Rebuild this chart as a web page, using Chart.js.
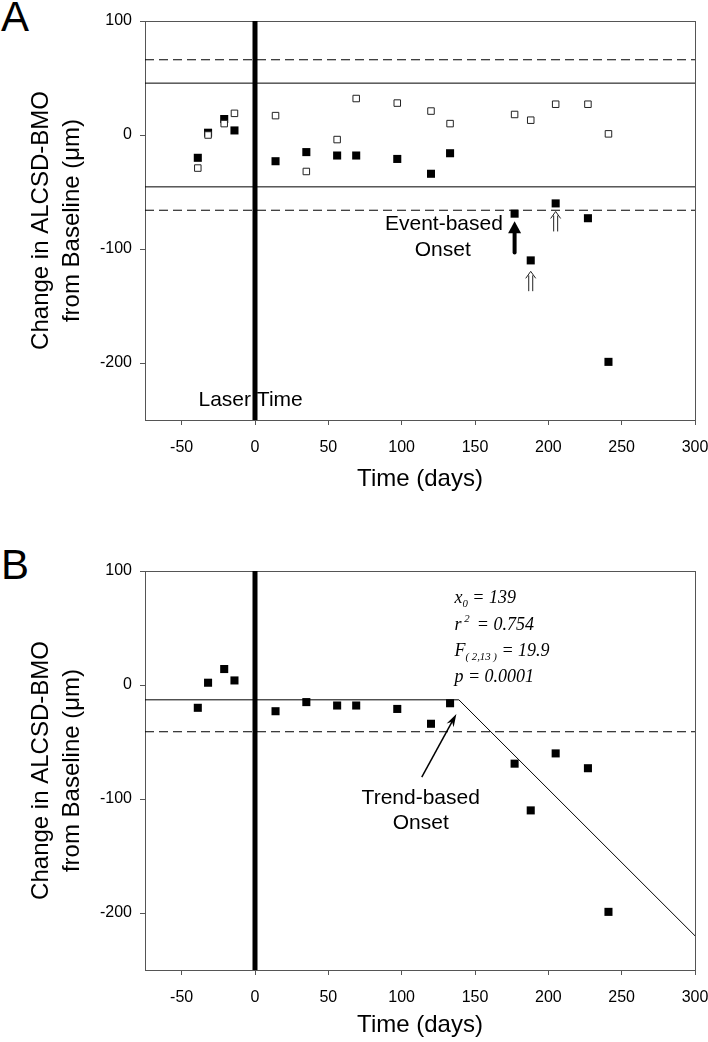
<!DOCTYPE html>
<html>
<head>
<meta charset="utf-8">
<script src="https://cdn.jsdelivr.net/npm/chart.js@4.4.0/dist/chart.umd.min.js"></script>
<style>
    html, body { margin: 0; padding: 0; background: #fff; overflow: hidden; }
    canvas { position: absolute; left: 0; }
    #panel-a { top: 0; }
    #panel-b { top: 542px; }
    .letter { position: absolute; left: 1px; font: 42px/42px 'Liberation Sans', Arial, sans-serif; color: #000; }
</style>
</head>
<body>
<div class="letter" style="top:-4px">A</div>
<canvas id="panel-a" width="708" height="496"></canvas>
<div class="letter" style="top:544px">B</div>
<canvas id="panel-b" width="708" height="500"></canvas>
<script>
// ALCSD-BMO change after laser, event-based (A) and trend-based (B) onset

const fontSans = "'Liberation Sans', Arial, sans-serif";
const fontSerif = "'Liberation Serif', 'Times New Roman', serif";

// axes
const xRange = [-75, 300];
const yRange = [-250, 100];
const xTicks = [-50, 0, 50, 100, 150, 200, 250, 300];
const yTicks = [-200, -100, 0, 100];

// visits (days from laser) and change from baseline (um)
const visitDays = [-39, -32, -21, -14, 14, 35, 56, 69, 97, 120, 133, 177, 188, 205, 227, 241];
const filledChange = [-20, 2, 14, 4, -23, -15, -18, -18, -21, -34, -16, -69, -110, -60, -73, -199];
const openChange = [-29, 0, 10, 19, 17, -32, -4, 32, 28, 21, 10, 18, 13, 27, 27, 1];

// panel A limits of variability
const laserDay = 0;
const innerLimit = 45.5;
const outerLimit = 66;

// panel B broken-stick fit
const trendDays = [-75, 139, 300];
const trendChange = [-13, -13, -220];
const trendCutoff = -41;

const toPoints = (xs, ys) => xs.map((v, i) => ({ x: v, y: ys[i] }));
const flatLine = (value) => [{ x: xRange[0], y: value }, { x: xRange[1], y: value }];

function lineSet(data, width, dash) {
    return {
        data: data,
        showLine: true,
        borderColor: '#000',
        borderWidth: width,
        borderDash: dash || [],
        pointRadius: 0,
        fill: false
    };
}

const filledSet = () => ({
    data: toPoints(visitDays, filledChange),
    pointStyle: 'rect',
    pointRadius: 5.7,
    backgroundColor: '#000',
    borderWidth: 0
});

const laserSet = () => lineSet([{ x: laserDay, y: yRange[0] }, { x: laserDay, y: yRange[1] }], 5);

// plot frame (top and right edges)
const boxPlugin = {
    id: 'box',
    beforeDatasetsDraw(chart) {
        const { ctx, chartArea: a } = chart;
        ctx.save();
        ctx.strokeStyle = '#555';
        ctx.lineWidth = 1;
        ctx.strokeRect(Math.round(a.left) + 0.5, Math.round(a.top) + 0.5,
            Math.round(a.right - a.left), Math.round(a.bottom - a.top));
        ctx.restore();
    }
};

function solidArrow(ctx, x, yTail, yTip) {
    ctx.save();
    ctx.strokeStyle = '#000';
    ctx.fillStyle = '#000';
    ctx.lineWidth = 4;
    ctx.lineCap = 'round';
    ctx.beginPath();
    ctx.moveTo(x, yTail);
    ctx.lineTo(x, yTip + 8);
    ctx.stroke();
    ctx.beginPath();
    ctx.moveTo(x, yTip);
    ctx.lineTo(x - 6.5, yTip + 12);
    ctx.lineTo(x + 6.5, yTip + 12);
    ctx.closePath();
    ctx.fill();
    ctx.restore();
}

function hollowArrow(ctx, x, yTail, yTip) {
    ctx.save();
    ctx.strokeStyle = '#222';
    ctx.lineWidth = 1;
    ctx.beginPath();
    ctx.moveTo(x - 2, yTail);
    ctx.lineTo(x - 2, yTip + 4);
    ctx.moveTo(x + 2, yTail);
    ctx.lineTo(x + 2, yTip + 4);
    ctx.moveTo(x - 5, yTip + 7);
    ctx.lineTo(x, yTip);
    ctx.lineTo(x + 5, yTip + 7);
    ctx.stroke();
    ctx.restore();
}

function thinArrow(ctx, x0, y0, x1, y1) {
    const ang = Math.atan2(y1 - y0, x1 - x0);
    const len = 13, half = 4;
    ctx.save();
    ctx.strokeStyle = '#000';
    ctx.fillStyle = '#000';
    ctx.lineWidth = 1.5;
    ctx.beginPath();
    ctx.moveTo(x0, y0);
    ctx.lineTo(x1 - Math.cos(ang) * 6, y1 - Math.sin(ang) * 6);
    ctx.stroke();
    ctx.translate(x1, y1);
    ctx.rotate(ang);
    ctx.beginPath();
    ctx.moveTo(0, 0);
    ctx.lineTo(-len, -half);
    ctx.lineTo(-len + 4, 0);
    ctx.lineTo(-len, half);
    ctx.closePath();
    ctx.fill();
    ctx.restore();
}

// italic statistic line with sub / superscripts
function drawScripted(ctx, parts, x, y, size) {
    let cx = x;
    for (const [text, kind] of parts) {
        const s = kind ? size * 0.6 : size;
        ctx.font = `italic ${s}px ${fontSerif}`;
        const dy = kind === 'sub' ? size * 0.3 : kind === 'sup' ? -size * 0.35 : 0;
        ctx.fillText(text, cx, y + dy);
        cx += ctx.measureText(text).width;
    }
}

const panelAText = {
    id: 'panelAText',
    afterDatasetsDraw(chart) {
        const { ctx, scales: { x, y } } = chart;
        ctx.save();
        ctx.fillStyle = '#000';
        ctx.font = `21px ${fontSans}`;
        ctx.textBaseline = 'middle';
        ctx.textAlign = 'right';
        ctx.fillText('Event-based', x.getPixelForValue(169), y.getPixelForValue(-78.5));
        ctx.textAlign = 'center';
        ctx.fillText('Onset', x.getPixelForValue(128), y.getPixelForValue(-101));
        ctx.fillText('Laser Time', x.getPixelForValue(-3), y.getPixelForValue(-232.5));
        ctx.restore();
        solidArrow(ctx, x.getPixelForValue(177), y.getPixelForValue(-103), y.getPixelForValue(-75.6));
        hollowArrow(ctx, x.getPixelForValue(205), y.getPixelForValue(-84.6), y.getPixelForValue(-67.1));
        hollowArrow(ctx, x.getPixelForValue(188), y.getPixelForValue(-137), y.getPixelForValue(-119.6));
    }
};

const panelBText = {
    id: 'panelBText',
    afterDatasetsDraw(chart) {
        const { ctx, scales: { x, y } } = chart;
        ctx.save();
        ctx.fillStyle = '#000';
        ctx.font = `21px ${fontSans}`;
        ctx.textBaseline = 'middle';
        ctx.textAlign = 'center';
        ctx.fillText('Trend-based', x.getPixelForValue(113), y.getPixelForValue(-99));
        ctx.fillText('Onset', x.getPixelForValue(113), y.getPixelForValue(-121));
        ctx.textAlign = 'left';
        const sx = x.getPixelForValue(136);
        drawScripted(ctx, [['x'], ['0', 'sub'], [' = 139']], sx, y.getPixelForValue(75.8), 18);
        drawScripted(ctx, [['r'], [' 2 ', 'sup'], [' = 0.754']], sx, y.getPixelForValue(52.6), 18);
        drawScripted(ctx, [['F'], ['( 2,13 )', 'sub'], [' = 19.9']], sx, y.getPixelForValue(29.4), 18);
        drawScripted(ctx, [['p = 0.0001']], sx, y.getPixelForValue(6.6), 18);
        ctx.restore();
        thinArrow(ctx, x.getPixelForValue(113.7), y.getPixelForValue(-80.8),
            x.getPixelForValue(137.3), y.getPixelForValue(-25.4));
    }
};

function makePanel(canvasId, topPad, axisHeight, datasets, textPlugin) {
    return new Chart(document.getElementById(canvasId), {
        type: 'scatter',
        data: { datasets: datasets },
        options: {
            responsive: false,
            animation: false,
            events: [],
            layout: { padding: { top: topPad, right: 13, left: 0, bottom: 0 } },
            plugins: {
                legend: { display: false },
                tooltip: { enabled: false }
            },
            scales: {
                x: {
                    type: 'linear',
                    min: xRange[0],
                    max: xRange[1],
                    afterBuildTicks: (s) => { s.ticks = xTicks.map(v => ({ value: v })); },
                    afterFit: (s) => {
                        s.height = axisHeight;
                        s.paddingLeft = 0;
                        s.paddingRight = 0;
                    },
                    grid: { display: true, drawOnChartArea: false, drawTicks: true, tickLength: 5, color: '#555' },
                    border: { display: true, color: '#555', width: 1 },
                    ticks: { color: '#000', font: { family: fontSans, size: 16 }, padding: 13, maxRotation: 0, autoSkip: false },
                    title: {
                        display: true,
                        text: 'Time (days)',
                        color: '#000',
                        font: { family: fontSans, size: 24 },
                        padding: { top: 0, bottom: 2 }
                    }
                },
                y: {
                    type: 'linear',
                    min: yRange[0],
                    max: yRange[1],
                    afterBuildTicks: (s) => { s.ticks = yTicks.map(v => ({ value: v })); },
                    afterFit: (s) => { s.width = 145; },
                    grid: { display: true, drawOnChartArea: false, drawTicks: true, tickLength: 5, color: '#555' },
                    border: { display: true, color: '#555', width: 1 },
                    ticks: { color: '#000', font: { family: fontSans, size: 16 }, padding: 8 },
                    title: {
                        display: true,
                        text: ['Change in ALCSD-BMO', 'from Baseline (\u03BCm)'],
                        color: '#000',
                        font: { family: fontSans, size: 24, lineHeight: 1.3 },
                        padding: { top: 26, bottom: 0 }
                    }
                }
            }
        },
        plugins: [boxPlugin, textPlugin]
    });
}

document.addEventListener('DOMContentLoaded', () => {
    makePanel('panel-a', 21, 76, [
        {
            data: toPoints(visitDays, openChange),
            pointStyle: 'rect',
            pointRadius: 4.6,
            backgroundColor: '#fff',
            borderColor: '#222',
            borderWidth: 1
        },
        filledSet(),
        laserSet(),
        lineSet(flatLine(innerLimit), 1),
        lineSet(flatLine(-innerLimit), 1),
        lineSet(flatLine(outerLimit), 1, [9, 5]),
        lineSet(flatLine(-outerLimit), 1, [9, 5])
    ], panelAText);

    makePanel('panel-b', 29, 72, [
        filledSet(),
        laserSet(),
        lineSet(toPoints(trendDays, trendChange), 1),
        lineSet(flatLine(trendCutoff), 1, [9, 5])
    ], panelBText);
});
</script>
</body>
</html>
